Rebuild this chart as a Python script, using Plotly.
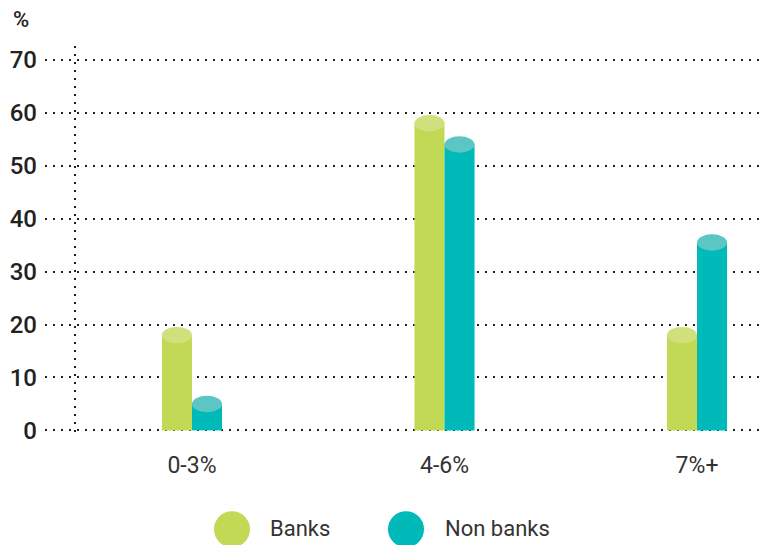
"""Cylinder-style grouped bar chart: Banks vs Non banks by rate band."""

import plotly.graph_objects as go

# Data
categories = ["0-3%", "4-6%", "7%+"]
banks = [18, 58, 18]
non_banks = [5, 54, 35.5]
y_ticks = [0, 10, 20, 30, 40, 50, 60, 70]

series = [
    ("Banks", banks, "#c2d955", "#d1e07d"),
    ("Non banks", non_banks, "#00b9b9", "#5cc6c4"),
]

BAR_W = 0.119        # width of one cylinder in category units
CAP_HALF = 1.55      # half-height of the elliptical cap, in y units
DOT = "2px,6px"
INK = "#222222"

# the page body adds an 8px margin, so the figure is sized to fit after it
W, H = 763, 537
ML, MT, MB = 37, 37.5, 112.5
PW = W - ML
PH = H - MT - MB


def px_x(px):
    """page pixel x -> paper fraction"""
    return (px - 8 - ML) / PW


def px_y(py):
    """page pixel y -> paper fraction"""
    return (H - MB - (py - 8)) / PH


fig = go.Figure()
shapes = []
xs = list(range(len(categories)))

for k, (name, vals, body, cap) in enumerate(series):
    off = -BAR_W if k == 0 else 0.0
    fig.add_trace(
        go.Bar(
            x=xs,
            y=vals,
            width=BAR_W,
            offset=off,
            name=name,
            marker=dict(color=body, line=dict(width=0)),
            showlegend=False,
        )
    )
    # elliptical top of each cylinder, sized from the value itself
    for i, v in zip(xs, vals):
        shapes.append(
            dict(
                type="circle",
                xref="x", yref="y",
                x0=i + off, x1=i + off + BAR_W,
                y0=v - CAP_HALF, y1=v + CAP_HALF,
                fillcolor=cap,
                line=dict(width=0),
                layer="above",
            )
        )

# dotted vertical axis line
shapes.append(
    dict(
        type="line", xref="paper", yref="paper",
        x0=px_x(75), x1=px_x(75), y0=0, y1=1,
        line=dict(color=INK, width=2, dash=DOT),
        layer="below",
    )
)

# legend drawn by hand so the dots can be large
legend_items = [("Banks", "#c2d955", 232, 268), ("Non banks", "#00b9b9", 406, 443)]
annotations = []
for label, color, cx, tx in legend_items:
    shapes.append(
        dict(
            type="circle", xref="paper", yref="paper",
            xsizemode="pixel", ysizemode="pixel",
            xanchor=px_x(cx), yanchor=px_y(530),
            x0=-18, x1=18, y0=-18, y1=18,
            fillcolor=color, line=dict(width=0),
        )
    )
    annotations.append(
        dict(
            text=label, xref="paper", yref="paper",
            x=px_x(tx), y=px_y(529), xanchor="left", yanchor="middle",
            showarrow=False,
            font=dict(family="Roboto", size=22, color="#333333"),
        )
    )

annotations.append(
    dict(
        text="%", xref="paper", yref="paper",
        x=px_x(11), y=px_y(19), xanchor="left", yanchor="middle",
        showarrow=False,
        font=dict(family="Roboto", size=22, color=INK, weight=500),
    )
)

fig.update_layout(
    width=W,
    height=H,
    autosize=False,
    margin=dict(l=ML, r=0, t=MT, b=MB, pad=0),
    plot_bgcolor="white",
    paper_bgcolor="white",
    barmode="overlay",
    shapes=shapes,
    annotations=annotations,
    font=dict(family="Roboto", color=INK),
)

fig.update_xaxes(
    range=[-0.582, 2.293],
    tickvals=xs,
    ticktext=categories,
    showgrid=False,
    zeroline=False,
    showline=False,
    ticks="",
    ticklabelstandoff=17,
    tickfont=dict(family="Roboto", size=23, color="#333333"),
)

fig.update_yaxes(
    range=[-0.3, 72.6],
    tickvals=y_ticks,
    showgrid=True,
    gridcolor=INK,
    gridwidth=2,
    griddash=DOT,
    zeroline=False,
    showline=False,
    ticks="",
    ticklabelstandoff=7,
    tickfont=dict(family="Roboto", size=24, color=INK, weight=500),
)

fig.write_html("out.html")
